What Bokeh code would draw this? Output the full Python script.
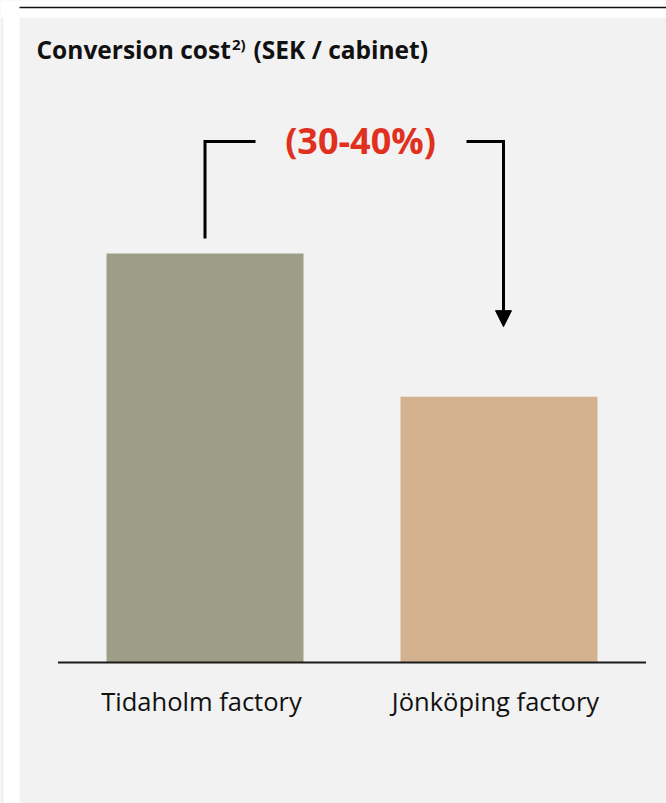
from bokeh.plotting import figure
from bokeh.models import Range1d, Arrow, NormalHead
from bokeh.core.properties import value
from bokeh.embed import file_html
from bokeh.resources import INLINE

# Chart data
categories = ["Tidaholm factory", "Jönköping factory"]
cost_index = [100, 65]          # conversion cost, Tidaholm = 100
bar_colors = ["#9e9d87", "#d4b290"]
change_label = "(30-40%)"
title_main = "Conversion cost"
title_note = "2)"
title_unit = "(SEK / cabinet)"

# Page geometry (pixels)
W, H = 666, 803
X0_PX, STEP_PX = 204.5, 294.0      # first category centre, category spacing
BASE_PX, UNIT_PX = 662.0, 4.09     # baseline row, pixels per index point
BAR_PX = 197.0

def dx(px):
    return (px - X0_PX) / STEP_PX

def dy(py):
    return (BASE_PX - py) / UNIT_PX

FONT = value("Open Sans")
BG = "#f2f2f2"

p = figure(width=W, height=H, output_backend="svg", toolbar_location=None,
           x_axis_location=None, y_axis_location=None, min_border=0,
           x_range=Range1d(dx(0), dx(W)), y_range=Range1d(dy(H), dy(0)))
p.grid.visible = False
p.outline_line_color = None
p.background_fill_color = BG
p.border_fill_color = "white"

# white page margins around the grey panel, with the top rule
p.quad(left=[dx(0), dx(19)], right=[dx(19), dx(W)],
       bottom=[dy(H), dy(17)], top=[dy(0), dy(0)],
       fill_color="white", line_color=None)
p.quad(left=[dx(0)], right=[dx(3)], bottom=[dy(H)], top=[dy(17)],
       fill_color=BG, line_color=None)
p.segment(x0=[dx(19)], x1=[dx(W)], y0=[dy(7)], y1=[dy(7)],
          line_color="#111111", line_width=1.5)

# bars
xs = list(range(len(categories)))
p.vbar(x=xs, top=cost_index, bottom=0, width=BAR_PX / STEP_PX,
       fill_color=bar_colors, line_color=None)
p.segment(x0=[-0.5], x1=[len(categories) - 0.5], y0=[0], y1=[0],
          line_color="#1a1a1a", line_width=2)

# category labels
p.text(x=[x - 3.5 / STEP_PX for x in xs], y=[dy(700)] * len(xs), text=categories,
       text_font=FONT, text_font_size="25.5px", text_color="#111111",
       text_align="center", text_baseline="alphabetic")

# title
p.text(x=[dx(36)], y=[dy(48.5)], text=[title_main], text_font=FONT,
       text_font_size="24.5px", text_font_style="bold", text_color="#111111",
       text_baseline="alphabetic")
p.text(x=[dx(231.5)], y=[dy(43)], text=[title_note], text_font=FONT,
       text_font_size="15px", text_font_style="bold", text_color="#111111",
       text_baseline="alphabetic")
p.text(x=[dx(253)], y=[dy(48.5)], text=[title_unit], text_font=FONT,
       text_font_size="24.5px", text_font_style="bold", text_color="#111111",
       text_baseline="alphabetic")

# change bracket from the first bar to the second
bracket_y = dy(141)
p.line(x=[0, 0, dx(255)], y=[cost_index[0] + 15 / UNIT_PX, bracket_y, bracket_y],
       line_color="black", line_width=3, line_join="miter")
p.line(x=[dx(466), dx(503), dx(503)], y=[bracket_y, bracket_y, bracket_y - 5 / UNIT_PX],
       line_color="black", line_width=3, line_join="miter")
p.add_layout(Arrow(end=NormalHead(size=16, fill_color="black", line_color="black"),
                   x_start=dx(503), y_start=bracket_y,
                   x_end=dx(503), y_end=cost_index[1] + 70 / UNIT_PX,
                   line_color="black", line_width=3))
p.text(x=[dx(360)], y=[dy(140)], text=[change_label], text_font=FONT,
       text_font_size="36px", text_font_style="bold", text_color="#e0301e",
       text_align="center", text_baseline="alphabetic")

open("out.html", "w").write(file_html(p, INLINE))
